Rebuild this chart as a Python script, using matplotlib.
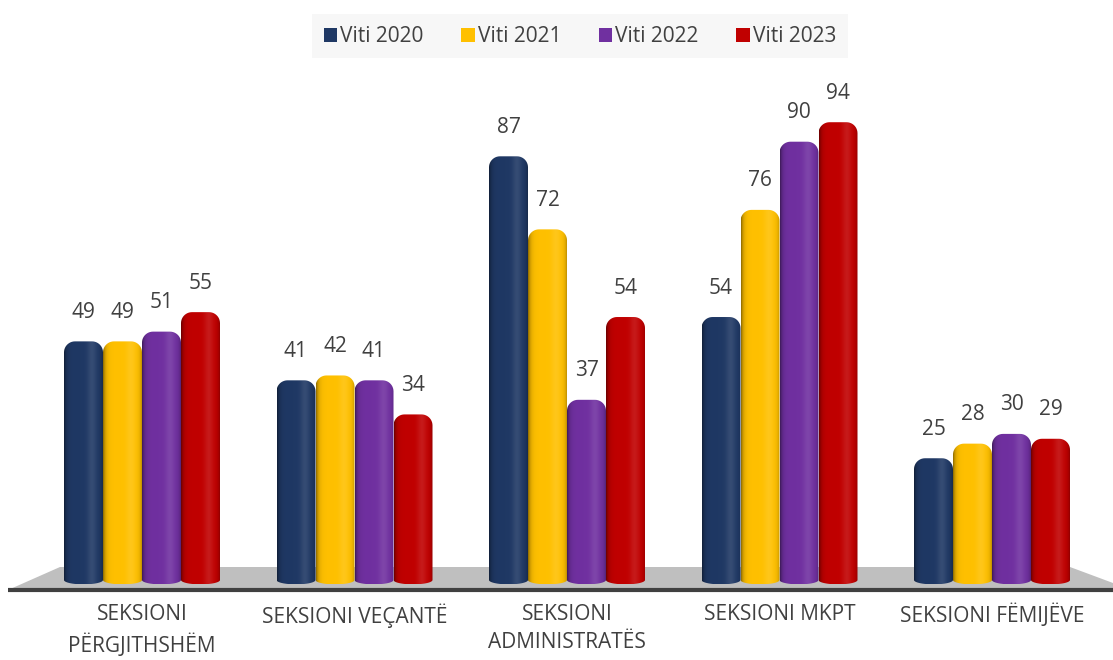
import numpy as np
import matplotlib
matplotlib.use("Agg")
import matplotlib.pyplot as plt
from matplotlib.path import Path
from matplotlib.patches import PathPatch, Patch

plt.rcParams['font.family'] = ['Open Sans', 'DejaVu Sans']

categories = ["SEKSIONI\nPËRGJITHSHËM", "SEKSIONI VEÇANTË", "SEKSIONI\nADMINISTRATËS",
              "SEKSIONI MKPT", "SEKSIONI FËMIJËVE"]
series_names = ["Viti 2020", "Viti 2021", "Viti 2022", "Viti 2023"]
v2020 = [49, 41, 87, 54, 25]
v2021 = [49, 42, 72, 76, 28]
v2022 = [51, 41, 37, 90, 30]
v2023 = [55, 34, 54, 94, 29]
series = [v2020, v2021, v2022, v2023]
colors = ["#1f3864", "#ffc000", "#7030a0", "#c00000"]

TXT = "#404040"
W, H = 1113, 660
fig = plt.figure(figsize=(W / 100, H / 100), dpi=100)
ax = fig.add_axes([0, 0, 1, 1])

# pixel layout -> data scale
x0_px, step_px = 142, 212.5
y0_px, unit_px = 580, 4.87
xlim = (-x0_px / step_px, (W - x0_px) / step_px)
ylim = (-(H - y0_px) / unit_px, y0_px / unit_px)
px_x = 1 / step_px
px_y = 1 / unit_px


def bar_path(xl, xr, h, rx, ry, rb):
    pts = [(xl, 0)]
    t = np.linspace(np.pi, np.pi / 2, 12)
    pts += list(zip(xl + rx + rx * np.cos(t), h - ry + ry * np.sin(t)))
    t = np.linspace(np.pi / 2, 0, 12)
    pts += list(zip(xr - rx + rx * np.cos(t), h - ry + ry * np.sin(t)))
    t = np.linspace(0, -np.pi, 30)
    cx, hw = (xl + xr) / 2, (xr - xl) / 2
    pts += list(zip(cx + hw * np.cos(t), rb * np.sin(t)))
    return Path(pts, closed=False)


def cylinder_img(col):
    base = np.array(matplotlib.colors.to_rgb(col))
    t = np.linspace(0, 1, 80)
    prof = np.ones_like(t)
    prof -= 0.45 * np.exp(-t / 0.06)          # dark left edge
    prof -= 0.25 * np.exp(-(1 - t) / 0.05)    # dark right edge
    c = np.clip(base[None, :] * prof[:, None], 0, 1)
    spec = 0.10 * np.exp(-((t - 0.72) / 0.12) ** 2)
    c = c + spec[:, None] * (1 - c)
    return c[None, :, :]


# floor
floor_top = (y0_px - 567) * px_y
floor_bot = (y0_px - 590) * px_y
fx = [(8 - x0_px) * px_x, (60 - x0_px) * px_x, (1070 - x0_px) * px_x,
      xlim[1], xlim[1]]
fy = [floor_bot, floor_top, floor_top, (y0_px - 583) * px_y, floor_bot]
ax.fill(fx, fy, color="#bfbfbf", zorder=1, lw=0)
ax.plot([fx[0], xlim[1]], [floor_bot, floor_bot], color="#404040", lw=3,
        solid_capstyle="butt", zorder=2)

bw = 39 * px_x
rx, ry, rb = 11 * px_x, 11 * px_y, 0.9
xc = np.arange(len(categories))
for j, (vals, col) in enumerate(zip(series, colors)):
    img = cylinder_img(col)
    for i, v in enumerate(vals):
        cx = xc[i] + (j - 1.5) * bw
        xl, xr = cx - bw / 2, cx + bw / 2
        patch = PathPatch(bar_path(xl, xr, v, rx, ry, rb), facecolor="none",
                          edgecolor="none", zorder=3 + j)
        ax.add_patch(patch)
        im = ax.imshow(img, extent=(xl, xr, -rb, v), aspect="auto",
                       interpolation="bilinear", zorder=3 + j)
        im.set_clip_path(patch)
        ax.annotate(str(v), (cx, v), xytext=(0, 29), textcoords="offset pixels",
                    ha="center", va="center", fontsize=15, color=TXT)

for i, lab in enumerate(categories):
    ax.text(xc[i], (y0_px - 604) * px_y, lab, ha="center", va="top",
            fontsize=15, color=TXT, linespacing=1.45)

ax.set_xlim(*xlim)
ax.set_ylim(*ylim)
ax.axis("off")

handles = [Patch(facecolor=c, edgecolor="none") for c in colors]
fig.legend(handles, series_names, loc="upper center",
           bbox_to_anchor=(580 / W, 1 - 4 / H), ncol=4, fontsize=15,
           frameon=True, facecolor="#f7f7f7", edgecolor="none", framealpha=1,
           fancybox=False, handlelength=0.65, handleheight=0.65,
           handletextpad=0.15, columnspacing=1.8, borderpad=0.55,
           labelcolor=TXT)

fig.savefig("out.png", dpi=100)
